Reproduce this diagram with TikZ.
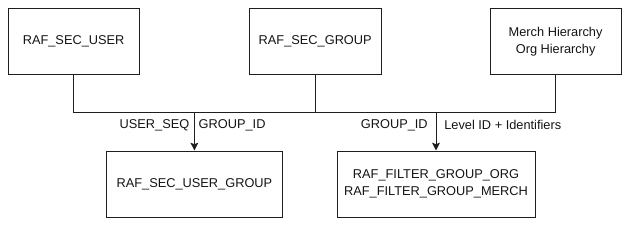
\documentclass[tikz,border=0pt]{standalone}
\usepackage{fontspec}
\setmainfont{Liberation Sans}
\usepackage{tikz}
\usetikzlibrary{arrows.meta}
\definecolor{rand}{HTML}{1E1E1E}
\definecolor{schrift}{HTML}{141414}

\begin{document}
\begin{tikzpicture}[
    font=\fontsize{9.1}{11.9}\selectfont,
    tbl/.style={draw=rand,line width=0.7pt,align=center,text=schrift,minimum height=1.63cm,inner sep=0pt},
    conn/.style={rand,line width=0.7pt},
    pfeil/.style={conn,-{Stealth[length=5.5pt,width=5.5pt,inset=1pt]}},
    lbl/.style={text=schrift,inner sep=0pt}]
  \useasboundingbox (0,0) rectangle (15.8,5.725);
  \node[tbl,minimum width=3.28cm] (user) at (1.84,4.69) {RAF\_SEC\_USER};
  \node[tbl,minimum width=3.30cm] (group) at (7.88,4.69) {RAF\_SEC\_GROUP};
  \node[tbl,minimum width=3.28cm] (hier) at (13.89,4.69) {Merch Hierarchy\\Org Hierarchy};
  \node[tbl,minimum width=4.38cm,minimum height=1.65cm] (usergroup) at (4.86,1.125) {RAF\_SEC\_USER\_GROUP};
  \node[tbl,minimum width=4.95cm,minimum height=1.65cm] (filter) at (10.9,1.125) {RAF\_FILTER\_GROUP\_ORG\\RAF\_FILTER\_GROUP\_MERCH};
  \coordinate (bus) at (0,2.925);
  \draw[conn] (user.south) |- (hier.south |- bus) -- (hier.south);
  \draw[conn] (group.south) -- (group.south |- bus);
  \draw[pfeil] (usergroup.north |- bus) -- (usergroup.north);
  \draw[pfeil] (filter.north |- bus) -- (filter.north);
  \node[lbl,anchor=east] (seq) at ([xshift=-0.12cm,yshift=-0.33cm] usergroup.north |- bus) {USER\_SEQ};
  \node[lbl,anchor=west] (gid1) at ([xshift=0.1cm,yshift=-0.33cm] usergroup.north |- bus) {GROUP\_ID};
  \node[lbl,anchor=east] (gid2) at ([xshift=-0.2cm,yshift=-0.33cm] filter.north |- bus) {GROUP\_ID};
  \node[lbl,anchor=west] (lvl) at ([xshift=0.2cm,yshift=-0.33cm] filter.north |- bus) {Level ID + Identifiers};
\end{tikzpicture}
\end{document}
